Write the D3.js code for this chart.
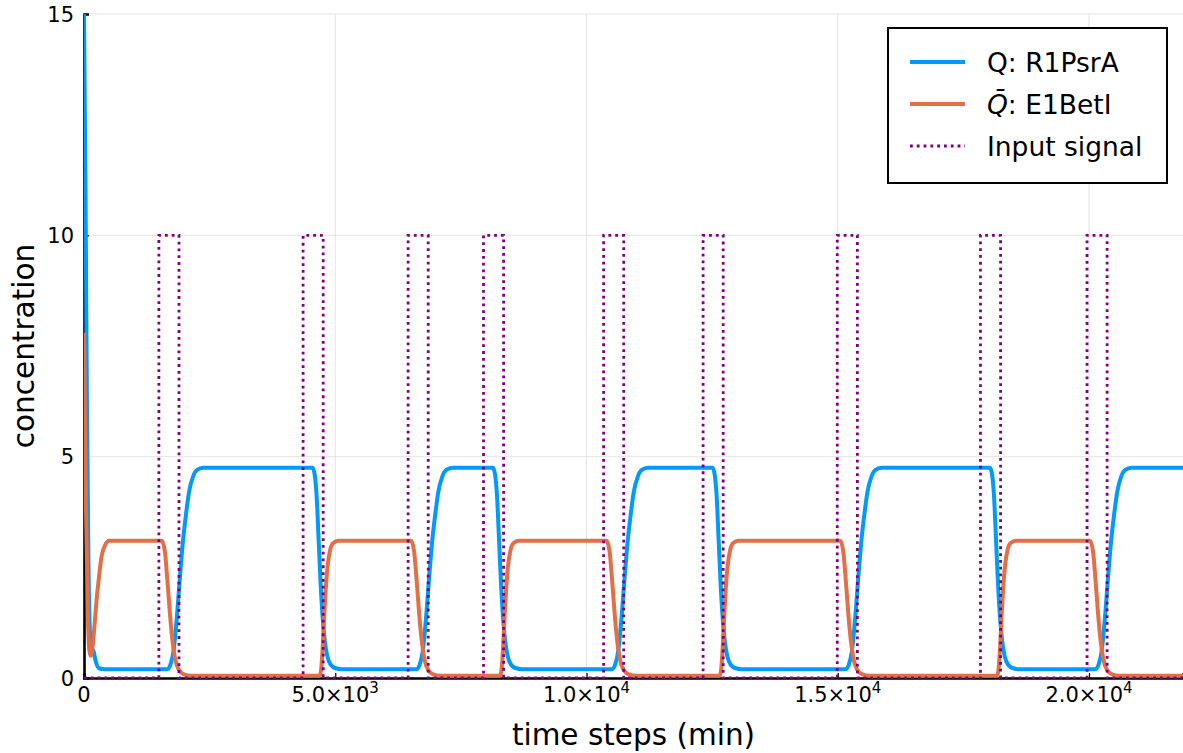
<!DOCTYPE html>
<html><head><meta charset="utf-8">
<script src="https://cdn.jsdelivr.net/npm/d3@7"></script>
<style>body{margin:0;background:#fff} svg{display:block} text{font-family:"DejaVu Sans",sans-serif}</style>
</head><body><svg id="c" width="1183" height="753"></svg>
<script>
// ---- data ----
const seriesNames = ["Q: R1PsrA", "Q̄: E1BetI", "Input signal"];

const qTime = [0,30,60,90,120,150,190,240,300,400,
 1660,1720,1780,1850,1910,1970,2030,2090,2170,2250,2370,
 4550,4590,4630,4670,4710,4750,4790,4840,4910,5010,5120,
 6620,6680,6740,6810,6870,6930,6990,7050,7130,7210,7330,
 8140,8180,8220,8260,8300,8340,8380,8430,8500,8600,8710,
 10510,10570,10630,10700,10760,10820,10880,10940,11020,11100,11220,
 12510,12550,12590,12630,12670,12710,12750,12800,12870,12970,13080,
 15160,15220,15280,15350,15410,15470,15530,15590,15670,15750,15870,
 18030,18070,18110,18150,18190,18230,18270,18320,18390,18490,18600,
 20130,20190,20250,20320,20380,20440,20500,20560,20640,20720,20840,
 21870];
const qValue = [15,11,6,2.5,1.0,0.7,0.6,0.35,0.22,0.2,
 0.2,0.3,0.6,1.4,2.3,3.1,3.7,4.2,4.55,4.7,4.75,
 4.75,4.6,4.1,3.1,2.1,1.35,0.85,0.5,0.3,0.22,0.2,
 0.2,0.3,0.6,1.4,2.3,3.1,3.7,4.2,4.55,4.7,4.75,
 4.75,4.6,4.1,3.1,2.1,1.35,0.85,0.5,0.3,0.22,0.2,
 0.2,0.3,0.6,1.4,2.3,3.1,3.7,4.2,4.55,4.7,4.75,
 4.75,4.6,4.1,3.1,2.1,1.35,0.85,0.5,0.3,0.22,0.2,
 0.2,0.3,0.6,1.4,2.3,3.1,3.7,4.2,4.55,4.7,4.75,
 4.75,4.6,4.1,3.1,2.1,1.35,0.85,0.5,0.3,0.22,0.2,
 0.2,0.3,0.6,1.4,2.3,3.1,3.7,4.2,4.55,4.7,4.75,
 4.75];

const qbarTime = [0,40,80,110,135,170,210,250,300,350,420,500,
 1550,1610,1660,1710,1760,1820,1890,1990,2140,
 4690,4720,4750,4780,4810,4850,4900,4960,5060,
 6510,6570,6620,6670,6720,6780,6850,6950,7100,
 8280,8310,8340,8370,8400,8440,8490,8550,8650,
 10400,10460,10510,10560,10610,10670,10740,10840,10990,
 12650,12680,12710,12740,12770,12810,12860,12920,13020,
 15050,15110,15160,15210,15260,15320,15390,15490,15640,
 18170,18200,18230,18260,18290,18330,18380,18440,18540,
 20020,20080,20130,20180,20230,20290,20360,20460,20610,
 21870];
const qbarValue = [7.8,3.8,1.3,0.6,0.5,0.7,1.2,1.75,2.3,2.75,3.0,3.1,
 3.1,2.85,2.2,1.45,0.85,0.4,0.18,0.08,0.05,
 0.05,0.2,0.7,1.4,2.0,2.55,2.9,3.05,3.1,
 3.1,2.85,2.2,1.45,0.85,0.4,0.18,0.08,0.05,
 0.05,0.2,0.7,1.4,2.0,2.55,2.9,3.05,3.1,
 3.1,2.85,2.2,1.45,0.85,0.4,0.18,0.08,0.05,
 0.05,0.2,0.7,1.4,2.0,2.55,2.9,3.05,3.1,
 3.1,2.85,2.2,1.45,0.85,0.4,0.18,0.08,0.05,
 0.05,0.2,0.7,1.4,2.0,2.55,2.9,3.05,3.1,
 3.1,2.85,2.2,1.45,0.85,0.4,0.18,0.08,0.05,
 0.05];

const inputTime  = [0,1490,1890,4360,4760,6450,6850,7950,8350,10340,10740,12320,12720,14990,15390,17840,18240,19960,20360,21870];
const inputValue = [0,10,0,10,0,10,0,10,0,10,0,10,0,10,0,10,0,10,0,0];

const yTicks = [0,5,10,15];
const xTickValues = [0,5000,10000,15000,20000];
const xTickMantissa = ["0","5.0×10","1.0×10","1.5×10","2.0×10"];
const xTickExponent = ["","3","4","4","4"];

// ---- layout ----
const svg = d3.select("#c");
const L = 84, T = 14, R = 1183, B = 678;
const x = d3.scaleLinear().domain([0, 21870]).range([L, R]);
const y = d3.scaleLinear().domain([0, 15]).range([B, T]);

// grid
const g = svg.append("g");
g.selectAll(".gx").data(xTickValues).enter().append("line")
  .attr("x1", d => x(d)).attr("x2", d => x(d)).attr("y1", T).attr("y2", B)
  .attr("stroke", "#e5e5e5").attr("stroke-width", 1);
g.selectAll(".gy").data(yTicks).enter().append("line")
  .attr("x1", L).attr("x2", R).attr("y1", d => y(d)).attr("y2", d => y(d))
  .attr("stroke", "#e5e5e5").attr("stroke-width", 1);

// axes
const ax = svg.append("g").attr("transform", `translate(0,${B})`)
  .call(d3.axisBottom(x).tickValues(xTickValues).tickSize(-5).tickFormat(""));
const ay = svg.append("g").attr("transform", `translate(${L},0)`)
  .call(d3.axisLeft(y).tickValues(yTicks).tickSize(-5).tickFormat(""));
[ax, ay].forEach(a => {
  a.select(".domain").attr("stroke", "#000").attr("stroke-width", 2.6);
  a.selectAll(".tick line").attr("stroke", "#000").attr("stroke-width", 1.2);
});

// tick labels
const xl = svg.append("g").selectAll("text").data(xTickValues).enter().append("text")
  .attr("x", d => x(d)).attr("y", B + 24).attr("text-anchor", "middle")
  .attr("font-size", 21).attr("fill", "#000");
xl.append("tspan").text((d, i) => xTickMantissa[i]);
xl.append("tspan").attr("font-size", 15).attr("dy", -9).text((d, i) => xTickExponent[i]);

svg.append("g").selectAll("text").data(yTicks).enter().append("text")
  .attr("x", L - 10).attr("y", d => y(d) + 7.5).attr("text-anchor", "end")
  .attr("font-size", 21).attr("fill", "#000").text(d => d);

// axis titles
svg.append("text").attr("x", (L + R) / 2).attr("y", 745).attr("text-anchor", "middle")
  .attr("font-size", 29.5).text("time steps (min)");
svg.append("text").attr("transform", `translate(34,${(T + B) / 2}) rotate(-90)`)
  .attr("text-anchor", "middle").attr("font-size", 29.5).text("concentration");

// series
const line = d3.line().x(d => x(d[0])).y(d => y(d[1])).curve(d3.curveMonotoneX);
const stepLine = d3.line().x(d => x(d[0])).y(d => y(d[1])).curve(d3.curveStepAfter);
svg.append("defs").append("clipPath").attr("id", "clip").append("rect")
  .attr("x", L).attr("y", T - 3).attr("width", R - L).attr("height", B - T + 6);
const plot = svg.append("g").attr("clip-path", "url(#clip)");

plot.append("path").datum(qTime.map((t, i) => [t, qValue[i]]))
  .attr("d", line).attr("fill", "none").attr("stroke", "#009AFA").attr("stroke-width", 4)
  .attr("stroke-linejoin", "round");
plot.append("path").datum(qbarTime.map((t, i) => [t, qbarValue[i]]))
  .attr("d", line).attr("fill", "none").attr("stroke", "#E26F46").attr("stroke-width", 4)
  .attr("stroke-linejoin", "round");
plot.append("path").datum(inputTime.map((t, i) => [t, inputValue[i]]))
  .attr("d", stepLine).attr("fill", "none").attr("stroke", "#800080").attr("stroke-width", 2.8)
  .attr("stroke-dasharray", "2.8,4");

// legend
const lg = svg.append("g");
lg.append("rect").attr("x", 888).attr("y", 28).attr("width", 279).attr("height", 155)
  .attr("fill", "#fff").attr("stroke", "#000").attr("stroke-width", 2);
const legColors = ["#009AFA", "#E26F46", "#800080"];
const legY = [62, 104, 146];
seriesNames.forEach((n, i) => {
  const ln = lg.append("line").attr("x1", 910).attr("x2", 965).attr("y1", legY[i]).attr("y2", legY[i])
    .attr("stroke", legColors[i]).attr("stroke-width", i === 2 ? 2.8 : 4);
  if (i === 2) ln.attr("stroke-dasharray", "2.8,4");
  const t = lg.append("text").attr("x", 987).attr("y", legY[i] + 9.5).attr("font-size", 26.5).attr("fill", "#000");
  if (i === 1) {
    t.append("tspan").attr("font-style", "italic").text("Q̄");
    t.append("tspan").text(": E1BetI");
  } else {
    t.text(n);
  }
});
</script></body></html>
